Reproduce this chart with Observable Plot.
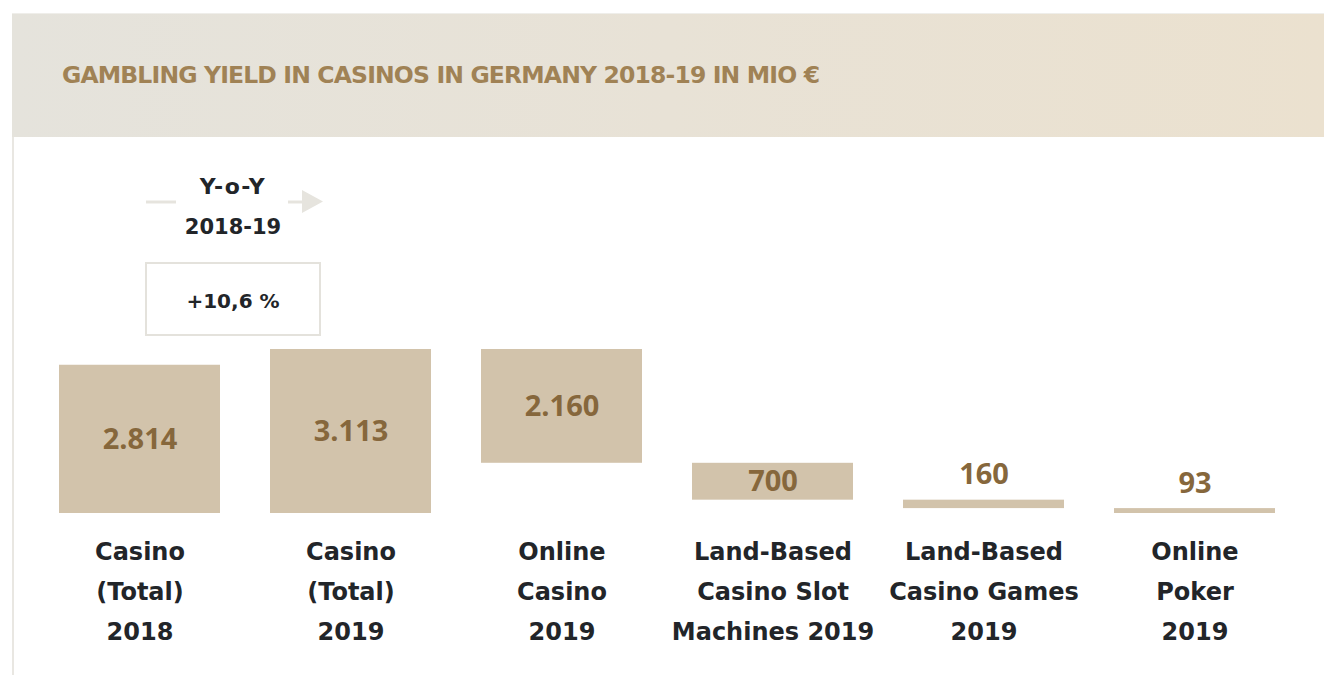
<!DOCTYPE html>
<html>
<head>
<meta charset="utf-8">
<script src="https://cdn.jsdelivr.net/npm/d3@7"></script>
<script src="https://cdn.jsdelivr.net/npm/@observablehq/plot@0.6"></script>
<style>
  html, body { margin: 0; padding: 0; background: #fff; }
  #wrap { position: relative; width: 1324px; height: 675px; overflow: hidden; }
  #header { position: absolute; left: 12px; top: 13px; width: 1312px; height: 124px;
            background: linear-gradient(90deg, #e5e3dc 0%, #e8e2d6 50%, #ebe1cf 100%);
            border-top: 1px solid #efeeea; box-sizing: border-box; }
  #frame { position: absolute; left: 12px; top: 137px; width: 2px; height: 538px; background: #e9e7e2; }
  #chart { position: absolute; left: 0; top: 137px; }
  #overlay { position: absolute; left: 0; top: 0; }
</style>
</head>
<body>
<div id="wrap">
  <div id="header"></div>
  <div id="frame"></div>
  <div id="chart"></div>
</div>
<script>
const FONT_LABEL = '"DejaVu Sans", sans-serif';
const FONT_VALUE = '"Open Sans", sans-serif';

// ---- data ----
const titleText = "GAMBLING YIELD IN CASINOS IN GERMANY 2018-19 IN MIO €";
const categories = [
  "Casino\n(Total)\n2018",
  "Casino\n(Total)\n2019",
  "Online\nCasino\n2019",
  "Land-Based\nCasino Slot\nMachines 2019",
  "Land-Based\nCasino Games\n2019",
  "Online\nPoker\n2019"
];
const values = [2814, 3113, 2160, 700, 160, 93];
const valueLabels = ["2.814", "3.113", "2.160", "700", "160", "93"];
const kinds = ["total", "total", "part", "part", "part", "part"];
const yoyLabel = ["Y-o-Y", "2018-19"];
const yoyValue = "+10,6 %";

// ---- waterfall table ----
let running = 0;
const rows = categories.map((c, i) => {
  let y1, y2;
  if (kinds[i] === "total") { y1 = 0; y2 = values[i]; running = values[i]; }
  else { y2 = running; y1 = running - values[i]; running = y1; }
  return { category: c, value: values[i], label: valueLabels[i], y1, y2 };
});
const maxTotal = d3.max(values);
const inside = rows.filter(d => d.value >= 500);
const above = rows.filter(d => d.value < 500);

const chart = Plot.plot({
  width: 1324,
  height: 538,
  marginLeft: 59,
  marginRight: 49,
  marginTop: 212,
  marginBottom: 162,
  style: { fontFamily: FONT_LABEL, background: "transparent", overflow: "visible" },
  x: { domain: categories, paddingInner: 0.237, paddingOuter: 0, axis: null },
  y: { domain: [0, maxTotal], axis: null },
  marks: [
    Plot.barY(rows, { x: "category", y1: "y1", y2: "y2", fill: "#d2c3ab" }),
    Plot.text(inside, { x: "category", y: d => (d.y1 + d.y2) / 2, text: "label",
      fill: "#86673c", fontSize: 29, fontWeight: 700, fontFamily: FONT_VALUE }),
    Plot.text(above, { x: "category", y: "y2", dy: -25, text: "label",
      fill: "#86673c", fontSize: 29, fontWeight: 700, fontFamily: FONT_VALUE }),
    Plot.text(rows, { x: "category", y: 0, text: "category", dy: 74,
      lineAnchor: "middle", lineHeight: 40 / 24, fontSize: 24, fontWeight: 700, fill: "#222529" })
  ]
});
document.getElementById("chart").appendChild(chart);

// ---- overlay: title and Y-o-Y annotation ----
const svg = d3.select("#wrap").append("svg")
  .attr("id", "overlay").attr("width", 1324).attr("height", 675)
  .style("font-family", FONT_LABEL);

svg.append("text").attr("x", 62).attr("y", 83)
  .attr("fill", "#a08255").attr("font-size", 23.5).attr("font-weight", 700)
  .attr("textLength", 758).attr("lengthAdjust", "spacing")
  .text(titleText);

const cx = 233;
svg.append("line").attr("x1", 146).attr("x2", 176).attr("y1", 202).attr("y2", 202)
  .attr("stroke", "#e6e4de").attr("stroke-width", 3);
svg.append("line").attr("x1", 288).attr("x2", 304).attr("y1", 202).attr("y2", 202)
  .attr("stroke", "#e6e4de").attr("stroke-width", 3);
svg.append("path").attr("d", "M302,190 L323,201.5 L302,213 Z").attr("fill", "#e6e4de");

svg.append("text").attr("x", cx).attr("y", 194).attr("text-anchor", "middle")
  .attr("font-size", 22).attr("font-weight", 700).attr("fill", "#222529")
  .attr("letter-spacing", 1.5).text(yoyLabel[0]);
svg.append("text").attr("x", cx).attr("y", 234).attr("text-anchor", "middle")
  .attr("font-size", 21).attr("font-weight", 700).attr("fill", "#222529").text(yoyLabel[1]);

svg.append("rect").attr("x", 146).attr("y", 263).attr("width", 174).attr("height", 72)
  .attr("fill", "#fff").attr("stroke", "#e4e2dc").attr("stroke-width", 2);
svg.append("text").attr("x", cx).attr("y", 308).attr("text-anchor", "middle")
  .attr("font-size", 20).attr("font-weight", 700).attr("fill", "#222529").text(yoyValue);
</script>
</body>
</html>
